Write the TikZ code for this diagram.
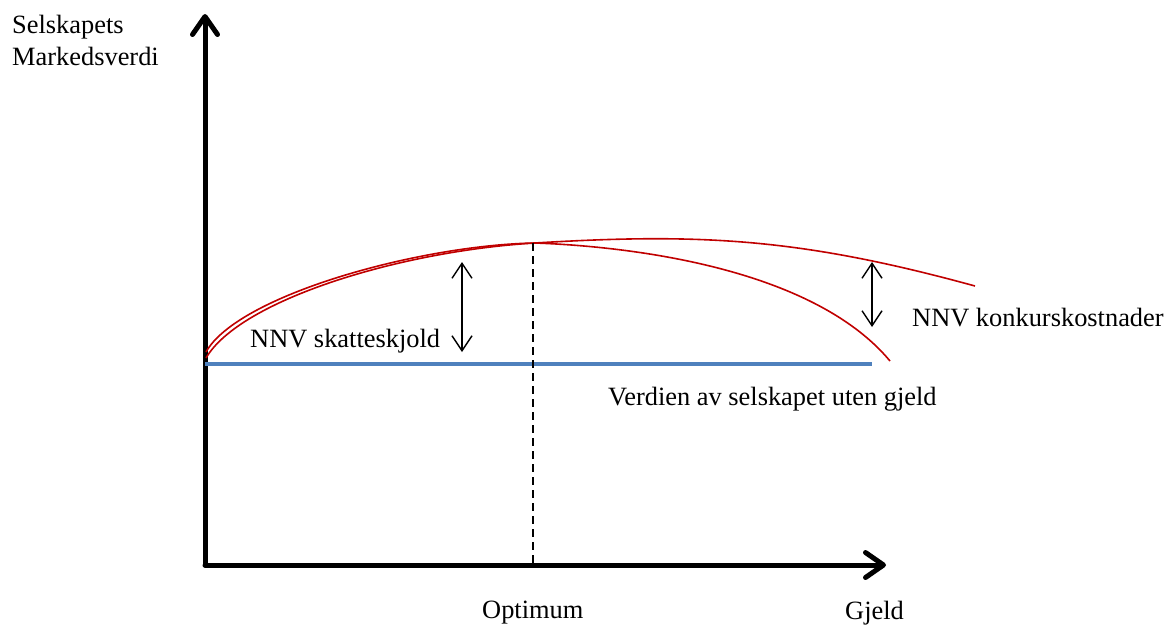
\documentclass[tikz,border=0pt]{standalone}
\usepackage{fontspec}
\setmainfont{Liberation Serif}
\usetikzlibrary{arrows.meta}
\definecolor{curvered}{RGB}{192,0,0}
\definecolor{baseblue}{RGB}{79,129,189}
\tikzset{
  lbl/.style={anchor=base west, inner sep=0pt, font=\fontsize{26.4}{32}\selectfont},
  axis/.style={line width=5pt, line cap=round, line join=round,
    -{Straight Barb[length=18pt,width=25pt,round]}},
  gap/.style={line width=1.4pt,
    {Straight Barb[length=15pt,width=20pt]}-{Straight Barb[length=15pt,width=20pt]}},
  valuecurve/.style={curvered, line width=1.6pt},
  optline/.style={line width=1.8pt, dash pattern=on 8pt off 5pt},
}
\begin{document}
\begin{tikzpicture}[x=1pt,y=-1pt]
\useasboundingbox (0,0) rectangle (1171,625);

% axes
\coordinate (origin) at (205,565);
\coordinate (ytip) at (205,14);
\coordinate (xtip) at (886,565);
\draw[axis] (origin) -- (ytip);
\draw[axis] (origin) -- (xtip);

% value without debt
\coordinate (base0) at (205,364);
\coordinate (base1) at (872,364);
\draw[baseblue, line width=3.5pt] (base0) -- (base1);

% value curves
\coordinate (peak) at (535,243);
\coordinate (longA) at (206,358);
\coordinate (longB) at (975,286);
\coordinate (shortA) at (206,352);
\coordinate (shortB) at (890,361);
\draw[valuecurve] (longA) .. controls (240,300) and (400,251) .. (peak)
  .. controls (700,233) and (800,238) .. (longB);
\draw[valuecurve] (shortA) .. controls (238,295) and (420,245) .. (peak)
  .. controls (620,246) and (810,265) .. (shortB);

% optimum
\coordinate (optbot) at (533,565);
\coordinate (opttop) at (533,243);
\draw[optline] (opttop) -- (optbot);

% NPV arrows
\coordinate (tsA) at (462,262);
\coordinate (tsB) at (462,352);
\draw[gap] (tsA) -- (tsB);
\coordinate (bcA) at (872,262);
\coordinate (bcB) at (872,327);
\draw[gap] (bcA) -- (bcB);

% labels
\node[lbl] (ylab1) at (12,33) {Selskapets};
\node[lbl] (ylab2) at (12,65) {Markedsverdi};
\node[lbl] (tslab) at (250,347) {NNV skatteskjold};
\node[lbl] (bclab) at (912,326) {NNV konkurskostnader};
\node[lbl] (vulab) at (608,405) {Verdien av selskapet uten gjeld};
\node[lbl] (optlab) at (482,618) {Optimum};
\node[lbl] (xlab) at (845,619) {Gjeld};
\end{tikzpicture}
\end{document}
